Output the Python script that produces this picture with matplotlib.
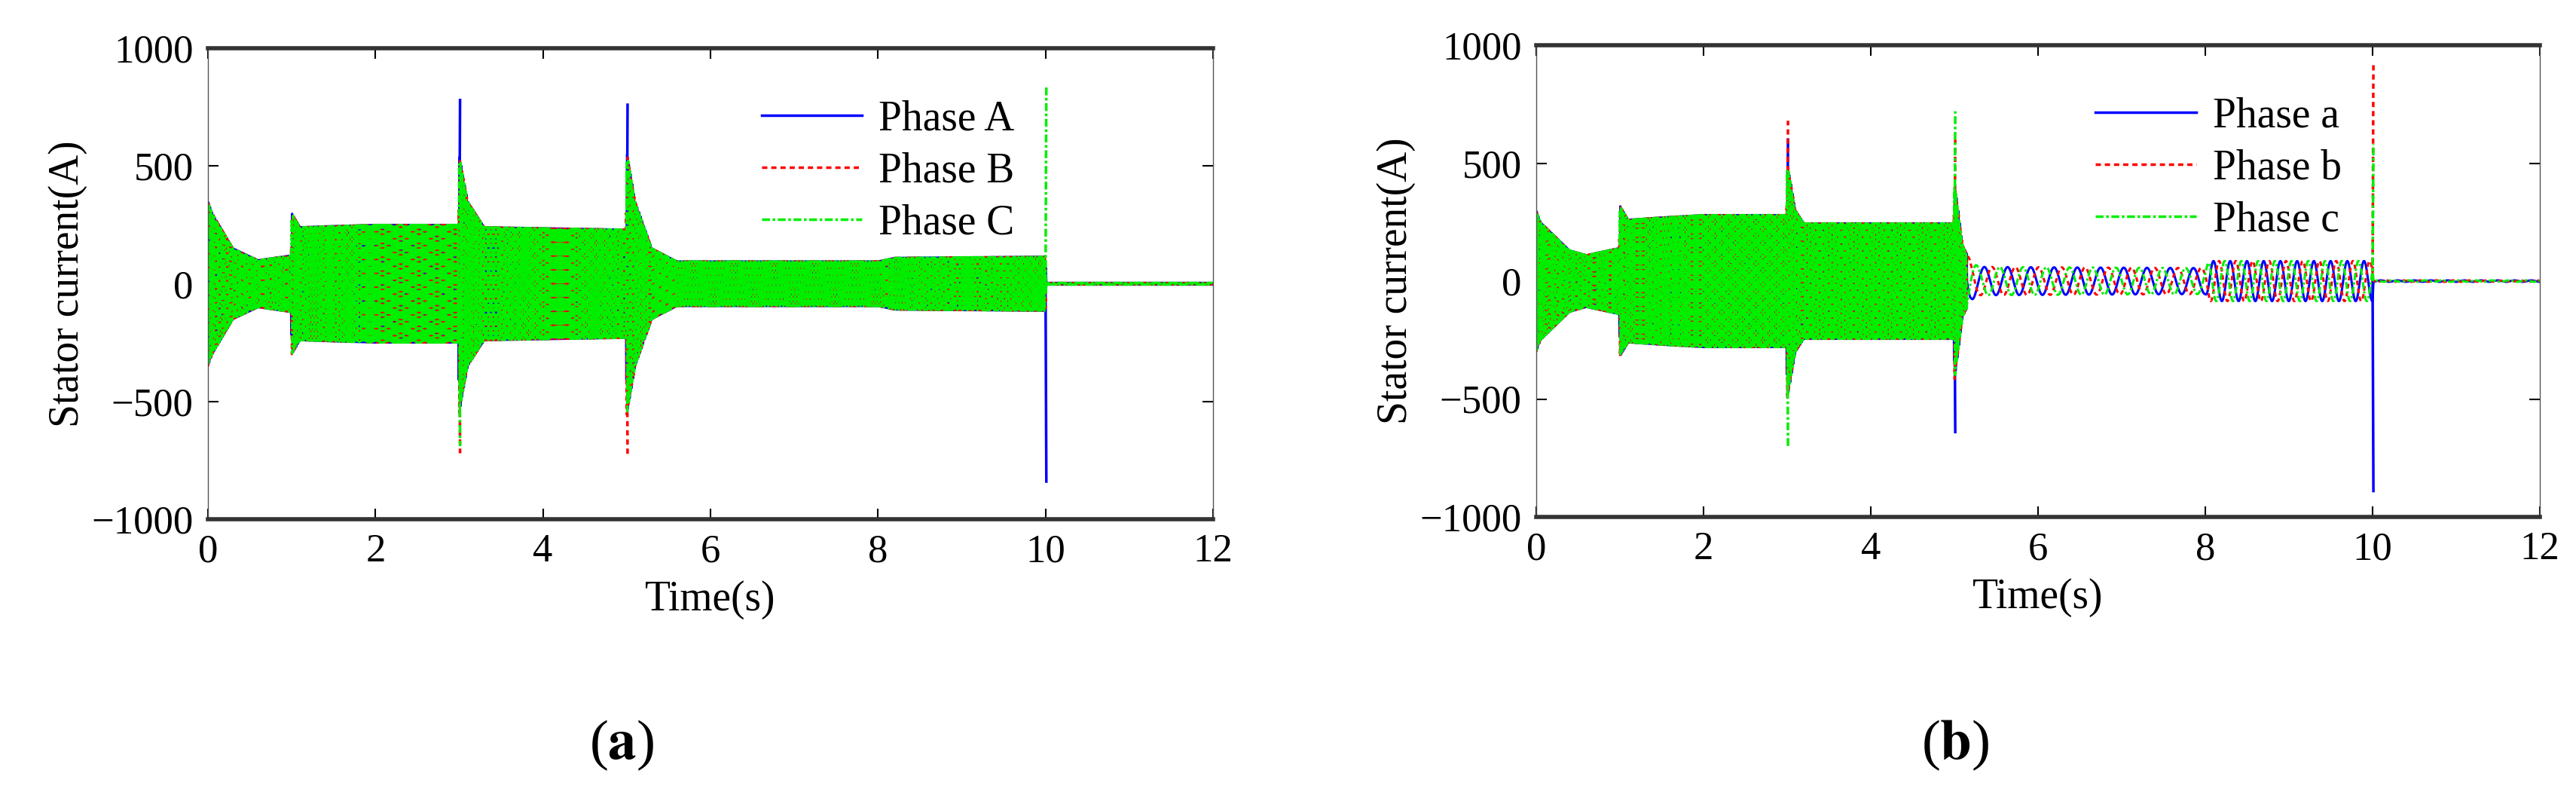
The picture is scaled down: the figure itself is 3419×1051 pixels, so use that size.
import numpy as np
import matplotlib
matplotlib.use("Agg")
import matplotlib.pyplot as plt

plt.rcParams['font.family'] = ['Liberation Serif', 'DejaVu Serif']
plt.rcParams['mathtext.fontset'] = 'stix'

# ---- data ----
a_env_t = [0, 0.05, 0.3, 0.6, 0.99, 1.0, 1.1, 1.5, 2.0, 2.99, 3.0, 3.1, 3.3, 4.99, 5.0, 5.1, 5.3, 5.6, 8.0, 8.2, 10.0, 10.01, 12]
a_env_amp = [350, 300, 150, 100, 120, 300, 240, 245, 250, 250, 550, 350, 240, 230, 560, 350, 150, 95, 95, 110, 115, 4, 4]
a_freq_t = [0, 12]
a_freq = [50]
a_spikes = {'A': [(3.0, 780), (5.0, 760), (10.0, -840)],
            'B': [(3.0, -720), (5.0, -730)],
            'C': [(10.0, 840), (3.0, -690)]}
a_labels = ['Phase A', 'Phase B', 'Phase C']

b_env_t = [0, 0.05, 0.4, 0.6, 0.99, 1.0, 1.1, 1.5, 2.0, 2.99, 3.0, 3.1, 3.2, 4.99, 5.0, 5.1, 5.2, 5.3, 8.0, 8.05, 10.0, 10.01, 12]
b_env_amp = [300, 250, 130, 110, 140, 320, 260, 270, 280, 280, 500, 300, 245, 245, 420, 150, 80, 60, 55, 85, 85, 3, 3]
b_freq_t = [0, 5.15, 8.0, 12]
b_freq = [50, 3.6, 5.0]
b_spikes = {'A': [(5.0, -640), (10.0, -890), (3.0, 600)],
            'B': [(3.0, 680), (10.0, 930), (5.0, 600)],
            'C': [(3.0, -700), (5.0, 720), (10.0, 580)]}
b_labels = ['Phase a', 'Phase b', 'Phase c']

colors = ['#0000ff', '#ff0000', '#00ee00']
styles = ['-', (0, (2, 1.5)), (0, (3, 1, 1, 1))]
phase_shift = [0, -2*np.pi/3, 2*np.pi/3]

fig = plt.figure(figsize=(34.19, 10.51), dpi=100)
axes = [fig.add_axes([276/3419, 1-689/1051, 1334/3419, 625/1051]),
        fig.add_axes([2039/3419, 1-686/1051, 1332/3419, 626/1051])]

t = np.linspace(0, 12, 240001)

def draw(ax, env_t, env_amp, ft, fv, spikes, labels):
    amp = np.interp(t, env_t, env_amp)
    idx = np.searchsorted(ft, t, side='right') - 1
    idx = np.clip(idx, 0, len(fv) - 1)
    f = np.array(fv)[idx]
    theta = 2*np.pi*np.cumsum(f)*(t[1]-t[0])
    for k, key in enumerate(['A', 'B', 'C']):
        y = amp*np.sin(theta + phase_shift[k])
        ax.plot(t, y, color=colors[k], ls=styles[k], lw=2.2, label=labels[k])
        for (ts, v) in spikes[key]:
            ax.plot([ts, ts + 0.01], [0, v], color=colors[k], ls=styles[k], lw=2.5)
    ax.set_xlim(0, 12)
    ax.set_ylim(-1000, 1000)
    ax.set_xticks(range(0, 13, 2))
    ax.set_yticks([-1000, -500, 0, 500, 1000])
    ax.set_yticklabels(['\u22121000', '\u2212500', '0', '500', '1000'])
    ax.tick_params(direction='in', length=10, width=1.5, top=True, right=True,
                   labelsize=38, pad=14)
    for s in ['top', 'bottom']:
        ax.spines[s].set_linewidth(4)
        ax.spines[s].set_color('#333333')
    for s in ['left', 'right']:
        ax.spines[s].set_linewidth(1)
        ax.spines[s].set_color('#555555')
    ax.set_xlabel('Time(s)', fontsize=40, labelpad=10)
    ax.set_ylabel('Stator current(A)', fontsize=40, labelpad=4)
    leg = ax.legend(loc='upper right', bbox_to_anchor=(0.84, 0.97), frameon=False,
                    fontsize=40, handlelength=2.4, labelspacing=0.3, handletextpad=0.4)
    for h in leg.get_lines():
        h.set_linewidth(2.5)

draw(axes[0], a_env_t, a_env_amp, a_freq_t, a_freq, a_spikes, a_labels)
draw(axes[1], b_env_t, b_env_amp, b_freq_t, b_freq, b_spikes, b_labels)

for x, letter in [(825, 'a'), (2595, 'b')]:
    fig.text(x/3419, 1-989/1051, '(' + r'$\mathbf{' + letter + '}$' + ')',
             fontsize=54, ha='center', va='center')

fig.savefig('out.png', dpi=100)
